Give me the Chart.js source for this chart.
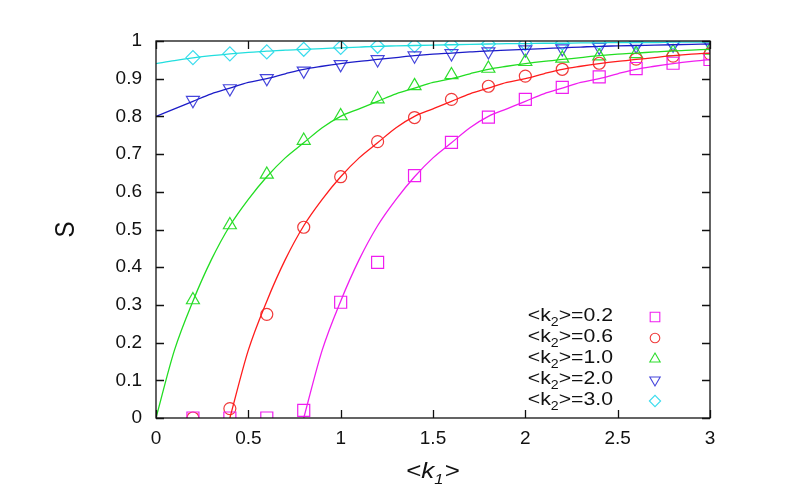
<!doctype html>
<html lang="en">
<head>
<meta charset="UTF-8">
<title>S vs k1</title>
<script src="https://cdn.jsdelivr.net/npm/chart.js@4.4.1/dist/chart.umd.min.js"></script>
<style>
  html, body { margin: 0; padding: 0; background: #fff; }
  #wrap { width: 810px; height: 504px; }
</style>
</head>
<body>
<div id="wrap"><canvas id="myChart" width="810" height="504"></canvas></div>
<script>
    // marker positions <k1>
    var markerK1 = [0.2, 0.4, 0.6, 0.8, 1.0, 1.2, 1.4, 1.6, 1.8, 2.0, 2.2, 2.4, 2.6, 2.8, 3.0];
    // simulation points
    var simK02 = [0, 0, 0, 0.02, 0.307, 0.413, 0.643, 0.731, 0.798, 0.845, 0.877, 0.905, 0.927, 0.941, 0.951];
    var simK06 = [0, 0.025, 0.275, 0.506, 0.64, 0.733, 0.797, 0.845, 0.88, 0.907, 0.925, 0.941, 0.952, 0.96, 0.966];
    var simK10 = [0.313, 0.512, 0.646, 0.736, 0.801, 0.846, 0.881, 0.91, 0.927, 0.945, 0.954, 0.96, 0.966, 0.971, 0.975];
    var simK20 = [0.843, 0.874, 0.901, 0.921, 0.938, 0.951, 0.961, 0.967, 0.972, 0.977, 0.98, 0.984, 0.987, 0.99, 0.992];
    var simK30 = [0.956, 0.966, 0.971, 0.978, 0.983, 0.986, 0.988, 0.99, 0.992, 0.993, 0.994, 0.995, 0.996, 0.997, 0.998];

    // theory curves, sampled every 0.1 (null = curve not drawn there)
    var lineK1 = [0, 0.1, 0.2, 0.3, 0.4, 0.5, 0.6, 0.7, 0.8, 0.9, 1.0, 1.1, 1.2, 1.3, 1.4, 1.5,
                  1.6, 1.7, 1.8, 1.9, 2.0, 2.1, 2.2, 2.3, 2.4, 2.5, 2.6, 2.7, 2.8, 2.9, 3.0];
    var curveK02 = [null, null, null, null, null, null, null, null, 0, 0.18, 0.31, 0.42, 0.51, 0.58, 0.64, 0.69,
                    0.73, 0.77, 0.80, 0.82, 0.84, 0.86, 0.875, 0.89, 0.90, 0.913, 0.925, 0.933, 0.94, 0.946, 0.951];
    var curveK06 = [null, null, null, null, 0, 0.18, 0.31, 0.42, 0.51, 0.58, 0.64, 0.69, 0.73, 0.77, 0.80, 0.82,
                    0.84, 0.86, 0.875, 0.89, 0.90, 0.913, 0.925, 0.933, 0.94, 0.946, 0.951, 0.956, 0.961, 0.965, 0.968];
    var curveK10 = [0, 0.18, 0.31, 0.42, 0.51, 0.58, 0.64, 0.69, 0.73, 0.77, 0.80, 0.82, 0.84, 0.86, 0.875, 0.89,
                    0.90, 0.913, 0.925, 0.933, 0.94, 0.946, 0.951, 0.956, 0.961, 0.965, 0.968, 0.971, 0.974, 0.976, 0.978];
    var curveK20 = [0.80, 0.82, 0.84, 0.86, 0.875, 0.89, 0.90, 0.913, 0.925, 0.933, 0.94, 0.946, 0.951, 0.956, 0.961, 0.965,
                    0.968, 0.971, 0.974, 0.976, 0.978, 0.980, 0.982, 0.984, 0.986, 0.987, 0.988, 0.989, 0.990, 0.991, 0.992];
    var curveK30 = [0.94, 0.948, 0.955, 0.961, 0.966, 0.970, 0.973, 0.976, 0.978, 0.980, 0.982, 0.984, 0.986, 0.987, 0.988, 0.989,
                    0.990, 0.991, 0.992, 0.993, 0.993, 0.994, 0.994, 0.995, 0.995, 0.996, 0.996, 0.996, 0.997, 0.997, 0.997];

    var legendValues = ["0.2", "0.6", "1.0", "2.0", "3.0"];

    var series = [
        {sim: simK02, curve: curveK02, color: "#f01ef0", mark: "#f01ef0", style: "rect", r: 8.5, rot: 0},
        {sim: simK06, curve: curveK06, color: "#ff1c1c", mark: "#f03a3a", style: "circle", r: 6, rot: 0},
        {sim: simK10, curve: curveK10, color: "#22dd22", mark: "#2edd2e", style: "triangle", r: 7.5, rot: 0},
        {sim: simK20, curve: curveK20, color: "#1c1cc8", mark: "#4646dc", style: "triangle", r: 7.5, rot: 180},
        {sim: simK30, curve: curveK30, color: "#22dede", mark: "#3cdcee", style: "rectRot", r: 7, rot: 0}
    ];

    var toPoints = function (xs, ys) {
        var out = [];
        for (var i = 0; i < xs.length; i++) {
            if (ys[i] !== null) out.push({x: xs[i], y: ys[i]});
        }
        return out;
    };

    var datasets = [];
    series.forEach(function (s) {
        datasets.push({
            data: toPoints(lineK1, s.curve),
            showLine: true,
            borderColor: s.color,
            borderWidth: 1.3,
            pointRadius: 0,
            cubicInterpolationMode: "monotone",
            fill: false
        });
    });
    series.forEach(function (s) {
        datasets.push({
            data: toPoints(markerK1, s.sim),
            showLine: false,
            borderColor: s.mark,
            backgroundColor: "rgba(0,0,0,0)",
            borderWidth: 1.2,
            pointStyle: s.style,
            pointRadius: s.r,
            pointRotation: s.rot,
            pointHoverRadius: s.r
        });
    });

    var FONT = "'Liberation Sans', Arial, sans-serif";
    var STRETCH = 1.18; // the source text is a bit wider than it is tall

    var numLabel = function (value) {
        return String(Math.round(value * 100) / 100);
    };

    // draws pieces [text, size, dy, italic] stretched horizontally, left at x
    var drawPieces = function (ctx, pieces, x, y) {
        ctx.save();
        ctx.translate(x, y);
        ctx.scale(STRETCH, 1);
        var cur = 0;
        pieces.forEach(function (p) {
            ctx.font = (p[3] ? "italic " : "") + p[1] + "px " + FONT;
            ctx.fillText(p[0], cur, p[2]);
            cur += ctx.measureText(p[0]).width + (p[4] || 0);
        });
        ctx.restore();
        return cur * STRETCH;
    };
    var measurePieces = function (ctx, pieces) {
        var w = 0;
        pieces.forEach(function (p) {
            ctx.font = (p[3] ? "italic " : "") + p[1] + "px " + FONT;
            w += ctx.measureText(p[0]).width + (p[4] || 0);
        });
        return w * STRETCH;
    };

    var framePlugin = {
        id: "frame",
        afterDraw: function (chart) {
            var ctx = chart.ctx, a = chart.chartArea;
            var xs = chart.scales.x, ys = chart.scales.y;
            ctx.save();
            ctx.strokeStyle = "#111";
            ctx.lineWidth = 1.3;
            ctx.strokeRect(a.left, a.top, a.right - a.left, a.bottom - a.top);
            // inward ticks on all four sides
            var tl = 8;
            ctx.beginPath();
            xs.ticks.forEach(function (t) {
                var px = Math.round(xs.getPixelForValue(t.value)) + 0.5;
                ctx.moveTo(px, a.bottom); ctx.lineTo(px, a.bottom - tl);
                ctx.moveTo(px, a.top); ctx.lineTo(px, a.top + tl);
            });
            ys.ticks.forEach(function (t) {
                var py = Math.round(ys.getPixelForValue(t.value)) + 0.5;
                ctx.moveTo(a.left, py); ctx.lineTo(a.left + tl, py);
                ctx.moveTo(a.right, py); ctx.lineTo(a.right - tl, py);
            });
            ctx.stroke();

            // axis titles
            ctx.fillStyle = "#111";
            ctx.textAlign = "left";
            ctx.textBaseline = "alphabetic";
            var xt = [["<", 22, 0, false], ["k", 22, 0, true], ["1", 14, 6, true, 1], [">", 22, 0, false]];
            var cx = (a.left + a.right) / 2;
            drawPieces(ctx, xt, cx - measurePieces(ctx, xt) / 2, 478);

            ctx.save();
            ctx.translate(74, (a.top + a.bottom) / 2);
            ctx.rotate(-Math.PI / 2);
            ctx.scale(1, STRETCH);
            ctx.textAlign = "center";
            ctx.font = "24px " + FONT;
            ctx.fillText("S", 0, 0);
            ctx.restore();

            // legend
            var rightX = 613, markX = 655, y0 = 316, dy = 21;
            legendValues.forEach(function (v, i) {
                var y = y0 + i * dy;
                var lp = [["<k", 18, 0, false], ["2", 12, 7, false], [">=" + v, 18, 0, false]];
                ctx.fillStyle = "#111";
                ctx.textAlign = "left";
                ctx.textBaseline = "middle";
                drawPieces(ctx, lp, rightX - measurePieces(ctx, lp), y);
                var s = series[i];
                ctx.strokeStyle = s.mark;
                ctx.fillStyle = "rgba(0,0,0,0)";
                ctx.lineWidth = 1.1;
                Chart.helpers.drawPoint(ctx, {
                    pointStyle: s.style,
                    rotation: s.rot,
                    radius: s.r * 0.8,
                    borderWidth: 1.1
                }, markX, y + 1);
            });
            ctx.restore();
        }
    };

    var ctx = document.getElementById("myChart").getContext("2d");
    var myChart = new Chart(ctx, {
        type: "scatter",
        data: {datasets: datasets},
        options: {
            responsive: false,
            animation: false,
            events: [],
            layout: {padding: {left: 0, right: 100, top: 41, bottom: 0}},
            plugins: {legend: {display: false}, tooltip: {enabled: false}},
            scales: {
                x: {
                    type: "linear",
                    min: 0, max: 3,
                    afterFit: function (scale) { scale.height = 86; },
                    grid: {display: false, drawTicks: false},
                    border: {display: false},
                    ticks: {
                        stepSize: 0.5,
                        padding: 9,
                        color: "#111",
                        font: {family: FONT, size: 19},
                        callback: numLabel
                    }
                },
                y: {
                    type: "linear",
                    min: 0, max: 1,
                    afterFit: function (scale) { scale.width = 156; },
                    grid: {display: false, drawTicks: false},
                    border: {display: false},
                    ticks: {
                        stepSize: 0.1,
                        padding: 14,
                        color: "#111",
                        font: {family: FONT, size: 19},
                        callback: numLabel
                    }
                }
            }
        },
        plugins: [framePlugin]
    });
</script>
</body>
</html>
